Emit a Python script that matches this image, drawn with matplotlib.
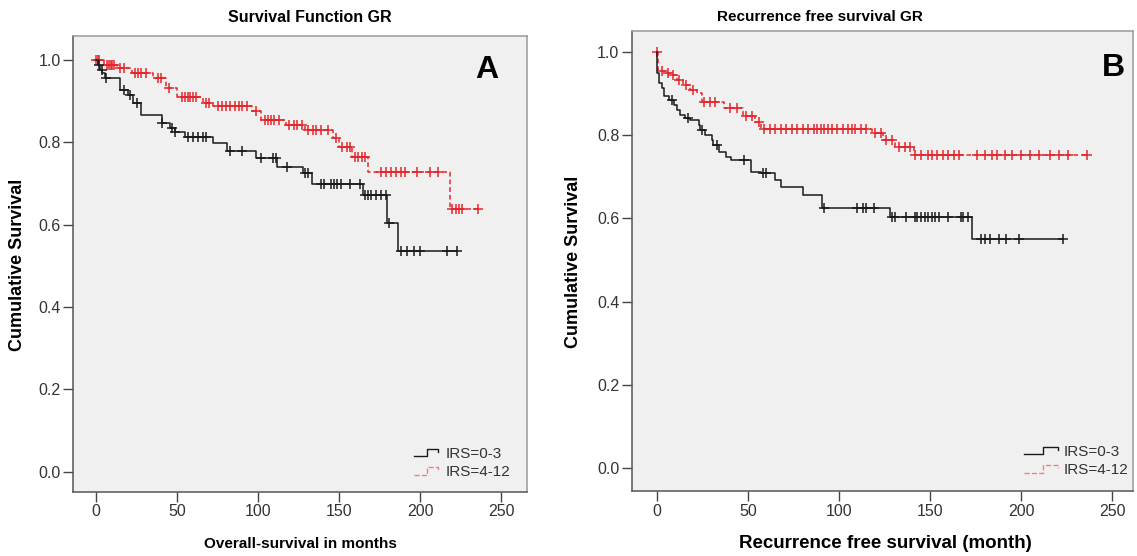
import numpy as np
import matplotlib
matplotlib.use("Agg")
import matplotlib.pyplot as plt
from matplotlib.legend_handler import HandlerBase
from matplotlib.lines import Line2D

plt.rcParams['font.family'] = ['Liberation Sans', 'DejaVu Sans']

# ---------------- data ----------------
# Panel A: overall survival
a_low_times = [0, 1, 2.5, 4, 5.5, 14.8, 19.9, 23, 28, 40.5, 45.7, 48.8, 55, 72, 80.6,
               99, 112, 128, 133, 165, 179.5, 186.6]
a_low_surv = [1.0, 0.988, 0.975, 0.968, 0.955, 0.927, 0.915, 0.895, 0.867, 0.847, 0.835,
              0.826, 0.814, 0.798, 0.78, 0.761, 0.741, 0.725, 0.699, 0.672, 0.604, 0.537]
a_low_end = 223
a_low_censor = [2, 3.5, 6, 17, 21, 25, 41, 47, 49, 57, 60, 63, 66, 68, 83, 90, 102, 109, 111,
                118, 129, 131, 139, 141, 145, 147, 149, 151, 157, 163, 166, 168, 170, 173,
                176, 179, 181, 188, 192, 196, 200, 216.5, 222.6]

a_high_times = [0, 5, 13, 22, 35, 43, 50, 66, 72, 96, 102, 117, 129, 146, 150, 158, 168, 218.5]
a_high_surv = [1.0, 0.988, 0.98, 0.968, 0.955, 0.932, 0.91, 0.895, 0.887, 0.875, 0.855,
               0.842, 0.829, 0.81, 0.788, 0.765, 0.729, 0.638]
a_high_end = 236
a_high_censor = [0, 1, 2, 7, 8, 9, 10, 11, 15, 17, 24, 26, 28, 31, 38, 40, 45, 53, 55, 57, 58,
                 60, 62, 68, 70, 75, 78, 80, 83, 86, 88, 90, 93, 99, 104, 106, 108, 110, 113,
                 119, 122, 124, 127, 131, 134, 136, 139, 143, 148, 152, 155, 157, 160, 162,
                 164, 166, 176, 179, 182, 185, 188, 191, 198, 206, 211, 220, 222, 224, 226, 236]

# Panel B: recurrence free survival
b_low_times = [0, 0.3, 1, 2.6, 3.7, 6.4, 9.2, 11, 12.8, 15.6, 18, 22.9, 23.8, 26.5, 30, 31, 34,
               37.7, 40.5, 51.5, 57, 65, 68, 80, 90.5, 128, 172.9]
b_low_surv = [1.0, 0.95, 0.925, 0.913, 0.893, 0.885, 0.873, 0.861, 0.849, 0.841, 0.837, 0.825,
              0.812, 0.80, 0.788, 0.776, 0.76, 0.748, 0.74, 0.712, 0.708, 0.692, 0.676, 0.656,
              0.624, 0.604, 0.55]
b_low_end = 223
b_low_censor = [8, 17, 25, 33, 48, 58, 60, 92, 110, 113, 115, 119, 129, 131, 137, 142, 143, 145,
                147, 149, 151, 153, 155, 160, 167, 168, 171, 178, 180, 183, 188, 192, 199, 223]

b_high_times = [0, 0.5, 2.5, 5, 7.5, 10.8, 14.3, 18, 21.8, 24.5, 37, 47, 54, 57, 118, 124, 131, 141]
b_high_surv = [1.0, 0.957, 0.953, 0.949, 0.945, 0.933, 0.921, 0.909, 0.90, 0.88, 0.865, 0.845,
               0.832, 0.815, 0.805, 0.788, 0.772, 0.752]
b_high_end = 236
b_high_censor = [0, 3, 6, 9, 12, 16, 20, 26, 29, 32, 40, 44, 49, 52, 56, 59, 62, 65, 68, 71, 74,
                 77, 80, 83, 86, 88, 90, 92, 94, 96, 99, 102, 105, 107, 109, 112, 115, 120, 123,
                 126, 129, 133, 136, 139, 142, 145, 149, 151, 154, 157, 160, 163, 166, 176, 180,
                 184, 187, 191, 195, 200, 205, 210, 216, 221, 226, 236]

x_ticks = [0, 50, 100, 150, 200, 250]
y_ticks = [0.0, 0.2, 0.4, 0.6, 0.8, 1.0]
legend_labels = ["IRS=0-3", "IRS=4-12"]

# ---------------- styling ----------------
BLACK = '#1a1a1a'
RED = '#e3262b'
BG = '#f0f0f0'


class StepHandler(HandlerBase):
    def create_artists(self, legend, orig_handle, xdescent, ydescent, width, height,
                       fontsize, trans):
        x0 = -xdescent
        y0 = -ydescent
        xs = np.array([0.0, 0.5, 0.5, 0.9, 0.9]) * width + x0
        ys = np.array([0.15, 0.15, 0.85, 0.85, 0.55]) * height + y0
        ln = Line2D(xs, ys, color=orig_handle.get_color(),
                    linestyle=orig_handle.get_linestyle(), lw=orig_handle.get_linewidth(),
                    transform=trans)
        return [ln]


def km(ax, times, surv, end, censor, color, ls):
    t = list(times) + [end]
    s = list(surv) + [surv[-1]]
    ax.step(t, s, where='post', color=color, lw=1.1, linestyle=ls)
    idx = np.searchsorted(np.array(times), np.array(censor), side='right') - 1
    cs = np.array(surv)[idx]
    ax.plot(censor, cs, linestyle='none', marker='+', color=color, ms=7, mew=1.1)


fig = plt.figure(figsize=(11.37, 5.56), dpi=100)

W, H = 1137, 556
def axbox(l, t, r, b):
    return [l / W, 1 - b / H, (r - l) / W, (b - t) / H]

axA = fig.add_axes(axbox(73, 36, 527, 492))
axB = fig.add_axes(axbox(632, 31, 1133, 491))

panels = [
    (axA, (a_low_times, a_low_surv, a_low_end, a_low_censor),
     (a_high_times, a_high_surv, a_high_end, a_high_censor), (-14.2, 266), (-0.049, 1.058),
     (0.963, 0.028), 1.7, 0.35),
    (axB, (b_low_times, b_low_surv, b_low_end, b_low_censor),
     (b_high_times, b_high_surv, b_high_end, b_high_censor), (-13.7, 261.5), (-0.055, 1.05),
     (0.99, 0.03), 2.5, 0.1),
]

for ax, low, high, xl, yl, anchor, hlen, hpad in panels:
    ax.set_facecolor(BG)
    km(ax, *high, RED, (0, (3, 2)))
    km(ax, *low, BLACK, '-')
    ax.set_xlim(*xl)
    ax.set_ylim(*yl)
    ax.set_xticks(x_ticks)
    ax.set_yticks(y_ticks)
    ax.set_yticklabels([f"{v:.1f}" for v in y_ticks])
    ax.tick_params(direction='out', length=7, width=1.0, colors='#444444',
                   labelsize=11.5, labelcolor='#333333', pad=2)
    for side in ['left', 'bottom']:
        ax.spines[side].set_color('#555555')
        ax.spines[side].set_linewidth(1.1)
    for side in ['top', 'right']:
        ax.spines[side].set_color('#999999')
        ax.spines[side].set_linewidth(1.1)
    h1 = Line2D([], [], color=BLACK, lw=1.0, linestyle='-')
    h2 = Line2D([], [], color='#f08080', lw=1.0, linestyle=(0, (2, 2)))
    leg = ax.legend([h1, h2], legend_labels, loc='lower right', frameon=False,
                    fontsize=11, handlelength=hlen, handletextpad=hpad, labelspacing=0.3,
                    borderpad=0, borderaxespad=0, bbox_to_anchor=anchor,
                    handler_map={Line2D: StepHandler()})
    for t in leg.get_texts():
        t.set_color('#333333')

# titles, axis labels, panel letters
fig.text(310 / W, 1 - 17 / H, "Survival Function GR", ha='center', va='center',
         fontsize=11.5, fontweight='bold')
fig.text(820 / W, 1 - 17 / H, "Recurrence free survival GR", ha='center', va='center',
         fontsize=11, fontweight='bold')
fig.text(300 / W, 1 - 544 / H, "Overall-survival in months", ha='center', va='center',
         fontsize=11, fontweight='bold')
fig.text(885 / W, 1 - 544 / H, "Recurrence free survival (month)", ha='center', va='center',
         fontsize=13.5, fontweight='bold')
fig.text(18 / W, 1 - 265 / H, "Cumulative Survival", ha='center', va='center', rotation=90,
         fontsize=13, fontweight='bold')
fig.text(573 / W, 1 - 262 / H, "Cumulative Survival", ha='center', va='center', rotation=90,
         fontsize=13, fontweight='bold')
fig.text(487 / W, 1 - 70 / H, "A", ha='center', va='center', fontsize=23, fontweight='bold')
fig.text(1113 / W, 1 - 68 / H, "B", ha='center', va='center', fontsize=23, fontweight='bold')

fig.savefig("out.png", dpi=100, facecolor='white')
